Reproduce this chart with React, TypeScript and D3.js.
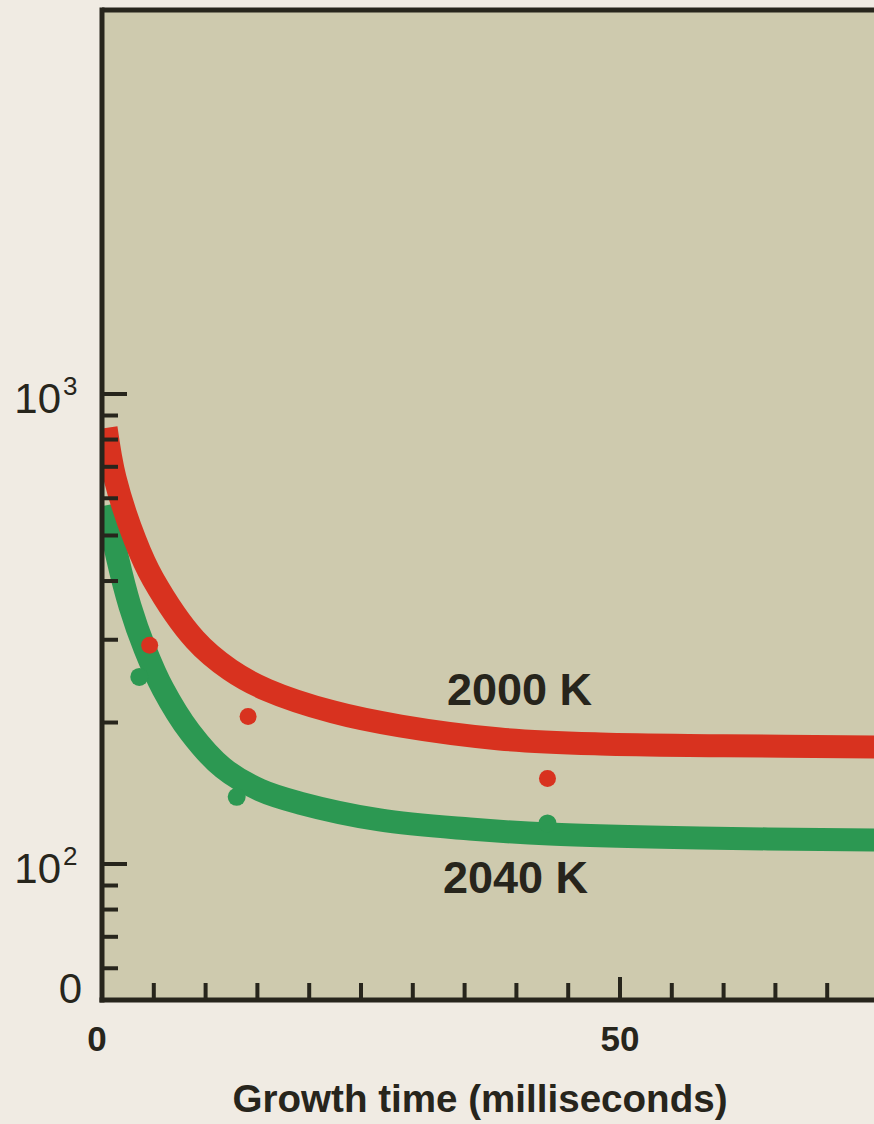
import React from 'react';
import * as d3 from 'd3';

// ---- data ----
const redCurveT = [0.39, 1.25, 3.19, 4.92, 8.98, 12.36, 15.93, 22.3, 28.8, 38.4, 48.1, 60, 74.5, 80];
const redCurveV = [847, 663, 489, 404, 300, 259, 234.6, 210.6, 196.6, 184.5, 180, 178.5, 177.4, 177.2];
const greenCurveT = [0.48, 1.54, 2.7, 4.15, 5.89, 8.49, 11.68, 15.25, 19.1, 26.8, 35.5, 43.2, 57.7, 74.5, 80];
const greenCurveV = [580, 443.6, 353.9, 286.8, 235.7, 190.9, 160.1, 143.7, 134.8, 124.1, 118.7, 115.8, 113.6, 112.5, 112.3];
const redPointT = [4.6, 14.1, 43.0];
const redPointV = [292, 206, 152];
const greenPointT = [3.6, 13.0, 43.0];
const greenPointV = [250, 139, 122];
const xMinorTicks = [5, 10, 15, 20, 25, 30, 35, 40, 45, 55, 60, 65, 70, 75];
const xMajorTicks = [50];
const xTickLabels = [0, 50];
const yMajorTicks = [100, 1000];
const yMajorExp = ['2', '3'];
const yMinorTicks = [60, 70, 80, 90, 200, 300, 400, 500, 600, 700, 800, 900];
const seriesNames = ['2000 K', '2040 K'];
const xTitle = 'Growth time (milliseconds)';

// ---- layout / style ----
const W = 874;
const H = 1124;
const plotLeft = 102;
const plotTop = 10;
const plotBottom = 1000;
const plotRight = 900;
const RED = '#d8321f';
const GREEN = '#2c9852';
const INK = '#27251c';
const FONT = '"Liberation Sans", Arial, Helvetica, sans-serif';

export default function App() {
  const x = d3.scaleLinear().domain([0, 50]).range([plotLeft, 620]);
  const y = d3.scaleLog().domain([100, 1000]).range([864, 394]);

  const line = d3
    .line<[number, number]>()
    .x((d) => x(d[0]))
    .y((d) => y(d[1]))
    .curve(d3.curveCatmullRom.alpha(0.5));

  const redPath = line(redCurveT.map((t, i) => [t, redCurveV[i]]) as [number, number][]) || '';
  const greenPath = line(greenCurveT.map((t, i) => [t, greenCurveV[i]]) as [number, number][]) || '';

  return (
    <div style={{ position: 'absolute', left: 0, top: 0, width: W, height: H, overflow: 'hidden' }}>
      <svg width={W} height={H} style={{ display: 'block' }} fontFamily={FONT}>
        <defs>
          <clipPath id="plotclip">
            <rect x={plotLeft + 2} y={plotTop + 2} width={plotRight - plotLeft} height={plotBottom - plotTop - 4} />
          </clipPath>
        </defs>
        <rect x={0} y={0} width={W} height={H} fill="#f0ebe3" />
        <rect x={plotLeft} y={plotTop} width={plotRight - plotLeft} height={plotBottom - plotTop} fill="#cecaae" />

        {/* curves */}
        <g clipPath="url(#plotclip)">
          <path d={greenPath} fill="none" stroke={GREEN} strokeWidth={23} strokeLinecap="butt" strokeLinejoin="round" />
          {greenPointT.map((t, i) => (
            <circle key={'g' + i} cx={x(t)} cy={y(greenPointV[i])} r={9} fill={GREEN} />
          ))}
          <path d={redPath} fill="none" stroke={RED} strokeWidth={23} strokeLinecap="butt" strokeLinejoin="round" />
          {redPointT.map((t, i) => (
            <circle key={'r' + i} cx={x(t)} cy={y(redPointV[i])} r={8.5} fill={RED} />
          ))}
        </g>

        {/* frame */}
        <line x1={plotLeft} x2={plotRight} y1={plotTop} y2={plotTop} stroke={INK} strokeWidth={5} />
        <line x1={plotLeft} x2={plotLeft} y1={plotTop - 2.5} y2={plotBottom + 2.5} stroke={INK} strokeWidth={5} />
        <line x1={plotLeft - 2.5} x2={plotRight} y1={plotBottom} y2={plotBottom} stroke={INK} strokeWidth={5} />

        {/* y ticks */}
        {yMajorTicks.map((v) => (
          <line key={'ym' + v} x1={plotLeft} x2={plotLeft + 25} y1={y(v)} y2={y(v)} stroke={INK} strokeWidth={4} />
        ))}
        {yMinorTicks.map((v) => (
          <line key={'yn' + v} x1={plotLeft} x2={plotLeft + 16} y1={y(v)} y2={y(v)} stroke={INK} strokeWidth={4} />
        ))}
        {yMajorTicks.map((v, i) => (
          <g key={'yl' + v} fill={INK}>
            <text x={61} y={y(v) + 19} fontSize={42} textAnchor="end">10</text>
            <text x={63} y={y(v) + 1} fontSize={26}>{yMajorExp[i]}</text>
          </g>
        ))}
        <text x={82} y={1003} fontSize={42} textAnchor="end" fill={INK}>0</text>

        {/* x ticks */}
        {xMinorTicks.map((t) => (
          <line key={'xn' + t} x1={x(t)} x2={x(t)} y1={plotBottom} y2={plotBottom - 17} stroke={INK} strokeWidth={4} />
        ))}
        {xMajorTicks.map((t) => (
          <line key={'xm' + t} x1={x(t)} x2={x(t)} y1={plotBottom} y2={plotBottom - 23} stroke={INK} strokeWidth={4} />
        ))}
        {xTickLabels.map((t) => (
          <text key={'xl' + t} x={x(t) - (t === 0 ? 5 : 0)} y={1051} fontSize={35} fontWeight="bold" textAnchor="middle" fill={INK}>
            {t}
          </text>
        ))}
        <text x={480} y={1112} fontSize={38} fontWeight="bold" textAnchor="middle" fill={INK} textLength={495} lengthAdjust="spacingAndGlyphs">
          {xTitle}
        </text>

        {/* series labels */}
        <text x={447} y={705} fontSize={45} fontWeight="bold" fill={INK}>{seriesNames[0]}</text>
        <text x={443} y={893} fontSize={45} fontWeight="bold" fill={INK}>{seriesNames[1]}</text>
      </svg>
    </div>
  );
}
